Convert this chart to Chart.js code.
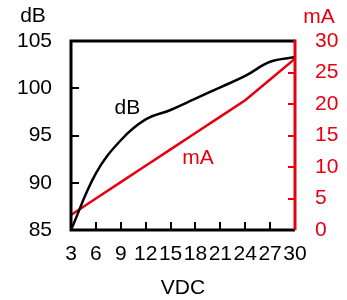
<!DOCTYPE html>
<html>
<head>
<meta charset="utf-8">
<script src="https://cdn.jsdelivr.net/npm/chart.js@4/dist/chart.umd.min.js"></script>
<style>
  html, body { margin: 0; padding: 0; background: #fff; }
</style>
</head>
<body>
<canvas id="chart" width="347" height="300"></canvas>
<script>
const vdc = [3, 6, 9, 12, 15, 18, 21, 24, 27, 30];
const dbValues = [85, 91.0, 94.5, 96.7, 97.7, 98.9, 100.1, 101.3, 102.8, 103.3];
const maValues = [2.4, 5.0, 7.6, 10.2, 12.8, 15.4, 18.0, 20.6, 23.9, 27.2];

const RED = '#e60012';
const FONT = '"Liberation Sans", Arial, sans-serif';
const FONT_SIZE = 21;

// where the in-plot labels sit, in data units
const dbLabelAt = { x: 9.8, y: 97.9 };
const maLabelAt = { x: 18.3, y: 11.4 };

const framePlugin = {
  id: 'frame',
  afterDraw(chart) {
    const ctx = chart.ctx;
    const area = chart.chartArea;
    const x = chart.scales.x, y = chart.scales.y, y1 = chart.scales.y1;

    ctx.save();
    ctx.lineCap = 'butt';

    // inward tick marks
    ctx.lineWidth = 2;
    ctx.strokeStyle = '#000';
    x.ticks.forEach(t => {
      const px = Math.round(x.getPixelForValue(t.value));
      ctx.beginPath();
      ctx.moveTo(px, area.bottom);
      ctx.lineTo(px, area.bottom - 8);
      ctx.stroke();
    });
    y.ticks.forEach(t => {
      const py = Math.round(y.getPixelForValue(t.value));
      ctx.beginPath();
      ctx.moveTo(area.left, py);
      ctx.lineTo(area.left + 8, py);
      ctx.stroke();
    });
    ctx.strokeStyle = RED;
    y1.ticks.forEach(t => {
      const py = Math.round(y1.getPixelForValue(t.value));
      ctx.beginPath();
      ctx.moveTo(area.right, py);
      ctx.lineTo(area.right - 7, py);
      ctx.stroke();
    });

    // frame
    ctx.lineWidth = 3;
    ctx.strokeStyle = '#000';
    ctx.beginPath();
    ctx.moveTo(area.right, area.top);
    ctx.lineTo(area.left, area.top);
    ctx.lineTo(area.left, area.bottom);
    ctx.lineTo(area.right, area.bottom);
    ctx.stroke();
    ctx.strokeStyle = RED;
    ctx.beginPath();
    ctx.moveTo(area.right, area.top - 1.5);
    ctx.lineTo(area.right, area.bottom);
    ctx.stroke();

    // titles
    ctx.font = FONT_SIZE + 'px ' + FONT;
    ctx.textBaseline = 'middle';
    ctx.textAlign = 'center';
    ctx.fillStyle = '#000';
    ctx.fillText('VDC', (area.left + area.right) / 2, 288);
    ctx.fillText('dB', 33, 16);
    ctx.fillStyle = RED;
    ctx.fillText('mA', 319, 17);

    // series labels
    ctx.fillStyle = '#000';
    ctx.fillText('dB', x.getPixelForValue(dbLabelAt.x), y.getPixelForValue(dbLabelAt.y));
    ctx.fillStyle = RED;
    ctx.fillText('mA', x.getPixelForValue(maLabelAt.x), y1.getPixelForValue(maLabelAt.y));
    ctx.restore();
  }
};

new Chart(document.getElementById('chart'), {
  type: 'line',
  data: {
    datasets: [
      {
        label: 'dB',
        data: vdc.map((v, i) => ({ x: v, y: dbValues[i] })),
        yAxisID: 'y',
        borderColor: '#000',
        borderWidth: 2.5,
        pointRadius: 0,
        tension: 0.4,
      },
      {
        label: 'mA',
        data: vdc.map((v, i) => ({ x: v, y: maValues[i] })),
        yAxisID: 'y1',
        borderColor: RED,
        borderWidth: 2.5,
        pointRadius: 0,
        tension: 0,
      },
    ],
  },
  options: {
    responsive: false,
    animation: false,
    layout: { padding: { top: 41, left: 0, right: 0, bottom: 0 } },
    plugins: { legend: { display: false }, tooltip: { enabled: false } },
    scales: {
      x: {
        type: 'linear',
        min: 3,
        max: 30,
        grid: { display: false, drawTicks: false },
        border: { display: false },
        ticks: {
          stepSize: 3,
          autoSkip: false,
          maxRotation: 0,
          padding: 12,
          color: '#000',
          font: { family: FONT, size: FONT_SIZE },
        },
        afterFit(scale) { scale.height = 70; },
      },
      y: {
        position: 'left',
        min: 85,
        max: 105,
        grid: { display: false, drawTicks: false },
        border: { display: false },
        ticks: {
          stepSize: 5,
          padding: 19,
          color: '#000',
          font: { family: FONT, size: FONT_SIZE },
        },
        afterFit(scale) { scale.width = 71; },
      },
      y1: {
        position: 'right',
        min: 0,
        max: 30,
        grid: { display: false, drawTicks: false },
        border: { display: false },
        ticks: {
          stepSize: 5,
          padding: 20,
          color: RED,
          font: { family: FONT, size: FONT_SIZE },
        },
        afterFit(scale) { scale.width = 52; },
      },
    },
  },
  plugins: [framePlugin],
});
</script>
</body>
</html>
